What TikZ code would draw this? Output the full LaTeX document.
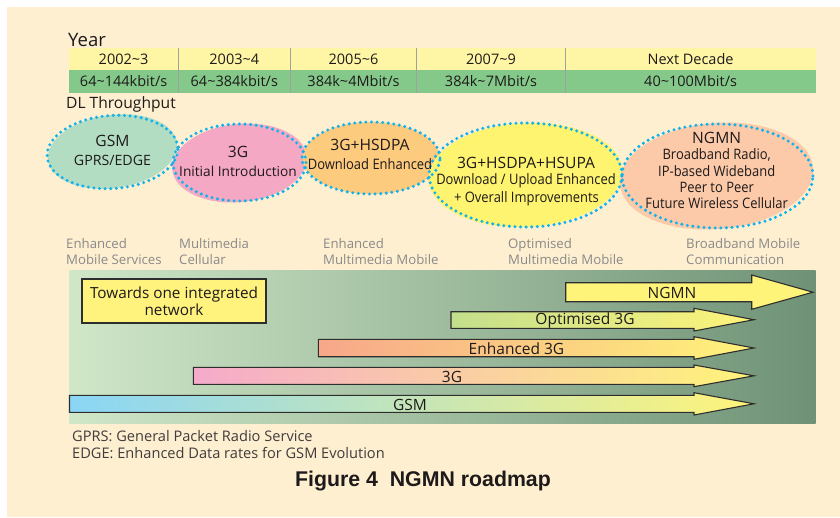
\documentclass[tikz,border=0pt]{standalone}
\usepackage{fontspec}
\setmainfont{Open Sans}
\newfontfamily\narrowsans[FakeStretch=0.9]{Open Sans}
\newfontfamily\captionsans{Liberation Sans}
\usetikzlibrary{shapes.geometric}

\definecolor{cream}{HTML}{FEEFD0}
\definecolor{ink}{HTML}{1E1A1B}
\definecolor{rowyellow}{HTML}{FFF6A5}
\definecolor{rowgreen}{HTML}{85C98A}
\definecolor{rule}{HTML}{A0A0A0}
\definecolor{gsmfill}{HTML}{B3DDC2}
\definecolor{pinkfill}{HTML}{F5A8C4}
\definecolor{orangefill}{HTML}{FDCB7E}
\definecolor{yellowfill}{HTML}{FFF46F}
\definecolor{salmonfill}{HTML}{FCCAA8}
\definecolor{dotblue}{HTML}{12B2EC}
\definecolor{eragrey}{HTML}{8A8A8A}
\definecolor{panelleft}{HTML}{D0E7C8}
\definecolor{panelright}{HTML}{6F9276}
\definecolor{boxyellow}{HTML}{FFF27D}
\definecolor{arrowyellow}{HTML}{FFF47A}
\definecolor{barline}{HTML}{2E2E2E}
\definecolor{gsmblue}{HTML}{8AD6F6}
\definecolor{gsmmid}{HTML}{CFE9CB}
\definecolor{tgpink}{HTML}{F5AACB}
\definecolor{tgmid}{HTML}{FBD0BC}
\definecolor{enhsalmon}{HTML}{F7A78A}
\definecolor{enhmid}{HTML}{FCC88E}
\definecolor{optgreen}{HTML}{C3DF8C}
\definecolor{optmid}{HTML}{DDE98A}

\tikzset{
  cell/.style={inner sep=0pt, text=ink, font=\fontsize{14.5}{17}\selectfont},
  phase/.style={ellipse, draw=dotblue, line width=3.4pt,
    dash pattern=on 0pt off 5.6pt, line cap=round, inner sep=0pt},
  headline/.style={inner sep=0pt, text=ink, font=\fontsize{15.6}{18}\selectfont},
  subline/.style={inner sep=0pt, text=ink, font=\narrowsans\fontsize{14.4}{16}\selectfont},
  plainline/.style={inner sep=0pt, text=ink, font=\fontsize{14.2}{16}\selectfont},
  era/.style={anchor=north west, align=left, inner sep=0pt, text=eragrey,
    font=\fontsize{13.2}{15.5}\selectfont},
  bar/.style={draw=barline, line width=1.1pt, line join=miter},
  barlabel/.style={inner sep=0pt, text=ink, font=\fontsize{15.5}{18}\selectfont},
  note/.style={anchor=west, inner sep=0pt, text=ink!85, font=\fontsize{14.6}{17}\selectfont}
}

\begin{document}
\begin{tikzpicture}[x=1pt, y=-1pt]
\useasboundingbox (0,0) rectangle (840,517);
\fill[white] (0,0) rectangle (840,517);
\fill[cream] (7,7) rectangle (840,517);

% ---- year / throughput table ----
\node[anchor=west, inner sep=0pt, text=ink, font=\fontsize{18.5}{21}\selectfont] (year) at (68,39.5) {Year};
\fill[rowyellow] (69,47.7) rectangle (816,70.2);
\fill[rowgreen] (69,70.2) rectangle (816,92.7);
\foreach \xx in {178.3,290.3,416.7,565.3}
  \draw[rule, line width=1.3pt] (\xx,47.7) -- (\xx,92.7);

\node[cell] (y1) at (123.6,59) {2002\char`\~3};
\node[cell] (y2) at (234.3,59) {2003\char`\~4};
\node[cell] (y3) at (353.5,59) {2005\char`\~6};
\node[cell] (y4) at (491,59) {2007\char`\~9};
\node[cell] (y5) at (690.6,59) {Next Decade};
\node[cell] (t1) at (123.6,81.5) {64\char`\~144kbit/s};
\node[cell] (t2) at (234.3,81.5) {64\char`\~384kbit/s};
\node[cell] (t3) at (353.5,81.5) {384k\char`\~4Mbit/s};
\node[cell] (t4) at (491,81.5) {384k\char`\~7Mbit/s};
\node[cell] (t5) at (690.6,81.5) {40\char`\~100Mbit/s};

\node[anchor=west, inner sep=0pt, text=ink, font=\fontsize{15.6}{18}\selectfont] (dl) at (66,104.5) {DL Throughput};

% ---- technology phases: coloured blobs ----
\fill[gsmfill, rotate around={8:(112.5,151.5)}] (112.5,151.5) ellipse [x radius=65, y radius=36.5];
\fill[pinkfill, rotate around={6:(239.5,163)}] (239.5,163) ellipse [x radius=67.5, y radius=39];
\fill[orangefill] (371,158) ellipse [x radius=68.5, y radius=36];
\fill[yellowfill, rotate around={3:(525.5,175)}] (525.5,175) ellipse [x radius=97, y radius=52];
\fill[salmonfill, rotate around={5:(716.5,176)}] (716.5,176) ellipse [x radius=97, y radius=53];

% ---- technology phases: dotted outlines ----
\node[phase, minimum width=131pt, minimum height=73pt, rotate=4] (gsm) at (112.5,152) {};
\node[phase, minimum width=133pt, minimum height=77pt] (tg) at (239.5,162.5) {};
\node[phase, minimum width=138pt, minimum height=72pt] (hsdpa) at (371,158) {};
\node[phase, minimum width=193pt, minimum height=104pt] (hsupa) at (525.5,175) {};
\node[phase, minimum width=191pt, minimum height=104pt] (ngmn) at (717.5,176) {};

\node[headline] (gsm-a) at (112.5,141) {GSM};
\node[plainline] (gsm-b) at (112.5,160) {GPRS/EDGE};
\node[headline] (tg-a) at (238,152) {3G};
\node[plainline, font=\fontsize{13.7}{16}\selectfont] (tg-b) at (238,171) {Initial Introduction};
\node[headline] (hsdpa-a) at (370,145) {3G+HSDPA};
\node[subline] (hsdpa-b) at (370,164) {Download Enhanced};
\node[headline] (hsupa-a) at (526,163) {3G+HSDPA+HSUPA};
\node[subline] (hsupa-b) at (526,181) {Download / Upload Enhanced};
\node[subline] (hsupa-c) at (526.5,199) {+ Overall Improvements};
\node[headline] (ngmn-a) at (716.7,138) {NGMN};
\node[subline] (ngmn-b) at (716.7,155) {Broadband Radio,};
\node[subline] (ngmn-c) at (716.7,171) {IP-based Wideband};
\node[subline] (ngmn-d) at (716.7,187) {Peer to Peer};
\node[subline] (ngmn-e) at (716.7,203) {Future Wireless Cellular};

% ---- service eras ----
\node[era] (era1) at (66,238.5) {Enhanced\\Mobile Services};
\node[era] (era2) at (179,238.5) {Multimedia\\Cellular};
\node[era] (era3) at (323,238.5) {Enhanced\\Multimedia Mobile};
\node[era] (era4) at (508,238.5) {Optimised\\Multimedia Mobile};
\node[era] (era5) at (686,238.5) {Broadband Mobile\\Communication};

% ---- roadmap panel ----
\shade[left color=panelleft, right color=panelright] (69,270) rectangle (815.7,423);

\node[draw=barline, line width=1.1pt, fill=boxyellow, minimum width=184pt, minimum height=44pt,
  align=center, inner sep=0pt, text=ink, font=\fontsize{15.3}{17}\selectfont] (goal) at (174,301) {Towards one integrated\\network};

% roadmap arrows
\path[bar, fill=arrowyellow]
  (565.7,282.7) -- (751.7,282.7) -- (751.7,275) -- (813,292.2) -- (751.7,309.3) -- (751.7,301.7) -- (565.7,301.7) -- cycle;
\path[bar, left color=optgreen, middle color=optmid, right color=arrowyellow]
  (451,311.7) -- (694,311.7) -- (694,308.3) -- (754,319.7) -- (694,331) -- (694,328.3) -- (451,328.3) -- cycle;
\path[bar, left color=enhsalmon, middle color=enhmid, right color=arrowyellow]
  (318.3,339.3) -- (694,339.3) -- (694,336.7) -- (754,348) -- (694,359.3) -- (694,356.7) -- (318.3,356.7) -- cycle;
\path[bar, left color=tgpink, middle color=tgmid, right color=arrowyellow]
  (193.3,367.3) -- (694,367.3) -- (694,365) -- (754,375.8) -- (694,386.7) -- (694,384.3) -- (193.3,384.3) -- cycle;
\path[bar, left color=gsmblue, middle color=gsmmid, right color=arrowyellow]
  (69.5,395.3) -- (694,395.3) -- (694,392.7) -- (754,403.8) -- (694,415) -- (694,412.3) -- (69.5,412.3) -- cycle;

\node[barlabel] (bar-ngmn) at (672,292.5) {NGMN};
\node[barlabel] (bar-opt) at (585,320.5) {Optimised 3G};
\node[barlabel] (bar-enh) at (516.5,348.5) {Enhanced 3G};
\node[barlabel] (bar-tg) at (452,376.5) {3G};
\node[barlabel] (bar-gsm) at (410,404.5) {GSM};

% ---- notes and caption ----
\node[note] (note1) at (72,436.5) {GPRS: General Packet Radio Service};
\node[note] (note2) at (72,453.5) {EDGE: Enhanced Data rates for GSM Evolution};
\node[inner sep=0pt, text=ink, font=\captionsans\bfseries\fontsize{21.3}{24}\selectfont] (caption) at (423,481) {Figure 4\ \ NGMN roadmap};
\end{tikzpicture}
\end{document}
